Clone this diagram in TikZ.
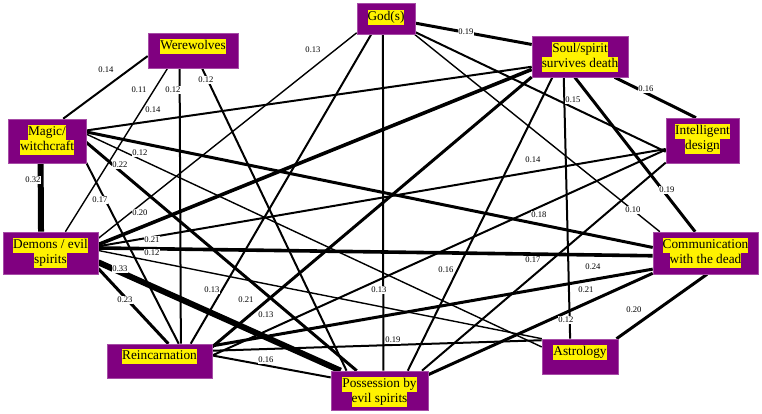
\documentclass[tikz,border=0pt]{standalone}
\usepackage{fontspec}
\setmainfont{Liberation Serif}
\usetikzlibrary{positioning,backgrounds}

\definecolor{boxpurple}{RGB}{128,0,128}
\setlength{\fboxsep}{0pt}
\newcommand{\hl}[1]{\colorbox{yellow}{\strut #1}}

\tikzset{
  concept/.style={fill=boxpurple,draw=boxpurple!70!white,line width=0.6pt,inner sep=0pt},
  cname/.style={inner sep=0pt,align=center,font=\fontsize{13.3}{15}\selectfont},
  wt/.style={fill=white,inner sep=0.6pt,font=\fontsize{8.6}{9}\selectfont},
  w1/.style={line width=1.4pt},
  w2/.style={line width=2pt},
  w3/.style={line width=3pt},
  w4/.style={line width=3.6pt},
  w6/.style={line width=6pt}
}

\begin{document}
\begin{tikzpicture}[x=1pt,y=-1pt]
\useasboundingbox (0,0) rectangle (762,414);

% the ten beliefs
\node[concept,minimum width=90pt,minimum height=35pt] (W) at (193,50.5) {};
\node[concept,minimum width=58pt,minimum height=31pt] (G) at (386,18.5) {};
\node[concept,minimum width=96pt,minimum height=41pt] (S) at (580,56.5) {};
\node[concept,minimum width=78pt,minimum height=44pt] (M) at (47,141) {};
\node[concept,minimum width=73pt,minimum height=45pt] (I) at (702.5,140.5) {};
\node[concept,minimum width=95pt,minimum height=42pt] (D) at (50.5,253) {};
\node[concept,minimum width=105pt,minimum height=42pt] (C) at (705.5,253) {};
\node[concept,minimum width=105pt,minimum height=34pt] (R) at (159.5,361) {};
\node[concept,minimum width=97pt,minimum height=39pt] (P) at (379.5,390.5) {};
\node[concept,minimum width=76pt,minimum height=35pt] (A) at (580,356.5) {};

\node[cname,below=6pt of W.north] (W-t) {\hl{Werewolves}};
\node[cname,below=7pt of G.north] (G-t) {\hl{God(s)}};
\node[cname,below=6pt of S.north] (S-t) {\hl{Soul/spirit}\\\hl{survives death}};
\node[cname,below=6pt of M.north] (M-t) {\hl{Magic/}\\\hl{witchcraft}};
\node[cname,below=6pt of I.north] (I-t) {\hl{Intelligent}\\\hl{design}};
\node[cname,below=6pt of D.north] (D-t) {\hl{Demons / evil}\\\hl{spirits}};
\node[cname,below=6pt of C.north] (C-t) {\hl{Communication}\\\hl{with the dead}};
\node[cname,below=5pt of R.north] (R-t) {\hl{Reincarnation}};
\node[cname,below=6pt of P.north] (P-t) {\hl{Possession by}\\\hl{evil spirits}};
\node[cname,below=6pt of A.north] (A-t) {\hl{Astrology}};

% correlations
\begin{scope}[on background layer]
\draw[w2] (W.187) -- (M.54);
\draw[w1] (W.215) -- (D.55.4);
\draw[w2] (W.233.4) -- (R.39.7);
\draw[w2] (W.297.2) -- (P.149);
\draw[w6] (M.254.7) -- (D.114.3);
\draw[w2] (M.15.8) -- (S.192.3);
\draw[w3] (M.13) -- (C.174.6);
\draw[w1] (M.10.2) -- (A.166);
\draw[w3] (M.358.5) -- (P.139.1);
\draw[w2] (M.331.1) -- (R.42.6);
\draw[w1] (G.206.6) -- (D.17.5);
\draw[w2] (G.227.9) -- (R.29.1);
\draw[w2] (G.259) -- (P.79.8);
\draw[w3] (G.351.2) -- (S.166.5);
\draw[w2] (G.335.2) -- (I.197.5);
\draw[w1] (G.331.9) -- (C.155.2);
\draw[w4] (S.195.7) -- (D.10.7);
\draw[w3] (S.203.6) -- (R.15.9);
\draw[w2] (S.217.2) -- (P.35.3);
\draw[w2] (S.232) -- (A.119.7);
\draw[w3] (S.256.3) -- (C.116.6);
\draw[w3] (S.329.6) -- (I.106.1);
\draw[w2] (D.8.4) -- (I.193.1);
\draw[w4] (D.6) -- (C.183.3);
\draw[w1] (D.3.6) -- (A.155.3);
\draw[w6] (D.349.3) -- (P.153.7);
\draw[w3] (D.342.5) -- (R.63.4);
\draw[w2] (I.194.6) -- (R.6.5);
\draw[w2] (I.211.6) -- (P.25.7);
\draw[w3] (R.16.9) -- (C.197.9);
\draw[w2] (R.11.8) -- (A.157.8);
\draw[w2] (R.6.5) -- (P.165.5);
\draw[w3] (C.201.8) -- (P.18.8);
\draw[w3] (C.274.3) -- (A.26.6);
\end{scope}

% weights
\node[wt] (l1) at (106,70) {0.14};
\node[wt] (l2) at (139,90) {0.11};
\node[wt] (l3) at (173,90) {0.12};
\node[wt] (l4) at (206,80) {0.12};
\node[wt] (l5) at (153,110) {0.14};
\node[wt] (l6) at (313,50) {0.13};
\node[wt] (l7) at (466,32) {0.19};
\node[wt] (l8) at (646,89) {0.16};
\node[wt] (l9) at (573,100) {0.15};
\node[wt] (l10) at (140,153) {0.12};
\node[wt] (l11) at (120,165) {0.22};
\node[wt] (l12) at (33,180) {0.32};
\node[wt] (l13) at (100,200) {0.17};
\node[wt] (l14) at (140,213) {0.20};
\node[wt] (l15) at (152,240) {0.21};
\node[wt] (l16) at (152,253) {0.12};
\node[wt] (l17) at (120,269) {0.33};
\node[wt] (l18) at (125,300) {0.23};
\node[wt] (l19) at (212,290) {0.13};
\node[wt] (l20) at (246,300) {0.21};
\node[wt] (l21) at (266,315) {0.13};
\node[wt] (l22) at (379,290) {0.13};
\node[wt] (l23) at (393,340) {0.19};
\node[wt] (l24) at (266,360) {0.16};
\node[wt] (l25) at (446,270) {0.16};
\node[wt] (l26) at (533,160) {0.14};
\node[wt] (l27) at (539,215) {0.18};
\node[wt] (l28) at (633,210) {0.10};
\node[wt] (l29) at (667,190) {0.19};
\node[wt] (l30) at (533,260) {0.17};
\node[wt] (l31) at (593,267) {0.24};
\node[wt] (l32) at (586,290) {0.21};
\node[wt] (l33) at (566,320) {0.12};
\node[wt] (l34) at (634,310) {0.20};
\end{tikzpicture}
\end{document}
